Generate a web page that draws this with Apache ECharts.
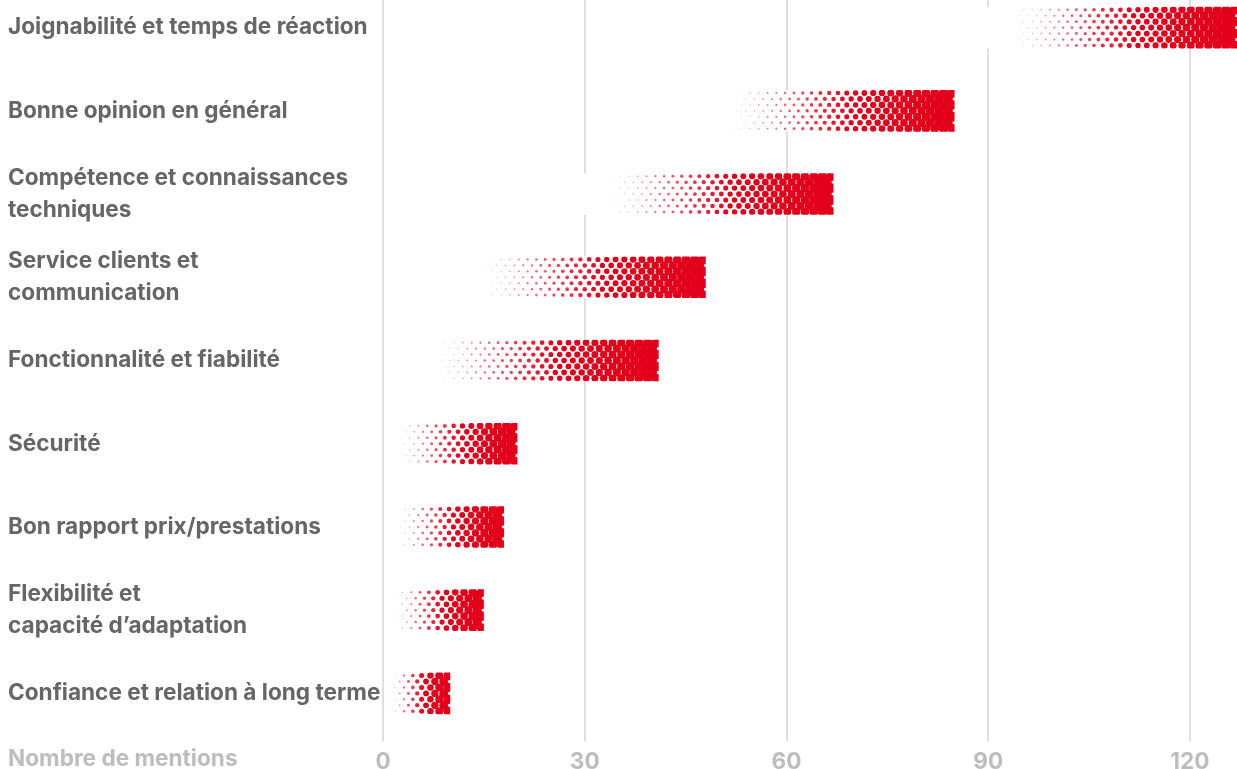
<!DOCTYPE html>
<html>
<head>
<meta charset="utf-8">
<script src="https://cdn.jsdelivr.net/npm/echarts@6/dist/echarts.min.js"></script>
<style>
html,body{margin:0;padding:0;background:#fff;overflow:hidden;}
#wrap{position:relative;width:1237px;height:769px;overflow:hidden;}
#chart{position:absolute;left:0;top:-14px;width:1237px;height:810px;}
</style>
</head>
<body>
<div id="wrap"><div id="chart"></div></div>
<script>
const categories = [
  'Joignabilité et temps de réaction',
  'Bonne opinion en général',
  'Compétence et connaissances\ntechniques',
  'Service clients et\ncommunication',
  'Fonctionnalité et fiabilité',
  'Sécurité',
  'Bon rapport prix/prestations',
  'Flexibilité et\ncapacité d’adaptation',
  'Confiance et relation à long terme'
];
const mentions = [127, 85, 67, 48, 41, 20, 18, 15, 10];
const axisTitle = 'Nombre de mentions';
const xMin = 0, xMax = 127, xStep = 30;

const RED = '#e3001b';
const FADE = 250;
const FONT_SIZE = 22.6;

function renderBar(params, api) {
  const v = api.value(0), ci = api.value(1);
  const e = api.coord([v, ci]);
  const s = api.coord([0, ci]);
  const bandH = api.size([0, 1])[1];
  const h = bandH * 0.5;
  const top = e[1] - h / 2;
  const x1 = e[0];
  const x0 = Math.max(s[0] + 1.5, x1 - FADE);
  const w = x1 - x0;
  const rows = 7, dy = h / rows, dx = 8.8;
  const dots = [];
  for (let r = 0; r < rows; r++) {
    const cy = top + dy * (r + 0.5);
    const off = (r % 2) ? dx / 2 : 0;
    for (let cx = x1 - dx / 4 - off; cx > x0 - dx; cx -= dx) {
      const t = Math.max(0, (cx - x0) / w);
      const rad = 5.0 * Math.pow(t, 1.2);
      if (rad < 0.25) continue;
      dots.push({
        type: 'circle',
        shape: {cx: cx, cy: cy, r: rad},
        style: {fill: RED, opacity: Math.min(1, 0.12 + 1.5 * t)}
      });
    }
  }
  return {
    type: 'group',
    children: [
      {type: 'rect', shape: {x: x0, y: top, width: w, height: h}, style: {fill: '#fff'}},
      {
        type: 'group',
        clipPath: {type: 'rect', shape: {x: x0, y: top, width: w, height: h}},
        children: dots
      }
    ]
  };
}

const chart = echarts.init(document.getElementById('chart'), null, {renderer: 'canvas'});
chart.setOption({
  animation: false,
  backgroundColor: '#fff',
  grid: {left: 383, right: 0, top: 0, bottom: 61, containLabel: false, outerBoundsMode: 'none'},
  xAxis: {
    type: 'value', min: xMin, max: xMax, interval: xStep,
    axisLine: {show: false},
    axisTick: {show: true, inside: false, length: 6, lineStyle: {color: '#dedede', width: 2}},
    splitLine: {show: true, showMaxLine: false, lineStyle: {color: '#dedede', width: 2}},
    axisLabel: {
      showMaxLabel: false, margin: 16,
      fontFamily: 'Inter', fontWeight: 'bold', fontSize: FONT_SIZE, color: '#bdbdbd'
    }
  },
  yAxis: {
    type: 'category', inverse: true, data: categories,
    axisLine: {show: false}, axisTick: {show: false}, splitLine: {show: false},
    axisLabel: {
      align: 'left', margin: 375, lineHeight: 32,
      fontFamily: 'Inter', fontWeight: 'bold', fontSize: FONT_SIZE, color: '#666666'
    }
  },
  graphic: [{
    type: 'text', left: 8, top: 762,
    style: {text: axisTitle, font: 'bold ' + FONT_SIZE + 'px Inter', fill: '#bdbdbd'}
  }],
  series: [{
    type: 'custom',
    renderItem: renderBar,
    encode: {x: 0, y: 1},
    clip: false,
    data: mentions.map((v, i) => [v, i])
  }]
});
</script>
</body>
</html>
